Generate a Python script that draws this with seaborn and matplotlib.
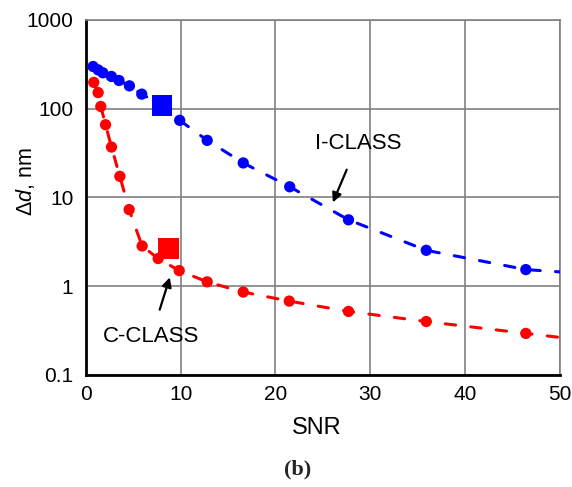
import matplotlib
matplotlib.use("Agg")
import matplotlib.pyplot as plt
import seaborn as sns
import pandas as pd

# ---- data ----
i_snr = [0.77, 1.3, 1.8, 2.7, 3.5, 4.6, 5.9, 9.9, 12.8, 16.6, 21.5, 27.7, 35.9, 46.4]
i_dd = [299, 274, 254, 231, 208, 181, 146, 74, 44, 24.5, 13.2, 5.6, 2.54, 1.54]
i_sq_snr = [8.05]
i_sq_dd = [109]
i_fit_snr = [0.77, 1.3, 1.8, 2.7, 3.5, 4.6, 5.9, 8.05, 9.9, 12.8, 16.6, 21.5, 27.7, 35.9, 46.4, 50]
i_fit_dd = [299, 274, 254, 231, 208, 181, 146, 109, 74, 44, 24.5, 13.2, 5.6, 2.54, 1.54, 1.45]

c_snr = [0.84, 1.3, 1.58, 2.08, 2.71, 3.59, 4.57, 5.94, 7.63, 9.85, 12.8, 16.6, 21.45, 27.7, 35.9, 46.4]
c_dd = [198, 152, 106, 66, 37, 17.3, 7.3, 2.84, 2.05, 1.50, 1.12, 0.86, 0.68, 0.52, 0.40, 0.294]
c_sq_snr = [8.72]
c_sq_dd = [2.65]
c_fit_snr = c_snr + [50]
c_fit_dd = c_dd + [0.265]

x_ticks = [0, 10, 20, 30, 40, 50]
y_ticks = [0.1, 1, 10, 100, 1000]
y_ticklabels = ["0.1", "1", "10", "100", "1000"]

sns.set_theme(style="white")
plt.rcParams["font.family"] = ["Liberation Sans", "DejaVu Sans"]
plt.rcParams["mathtext.fontset"] = "custom"
plt.rcParams["mathtext.rm"] = "Liberation Sans"
plt.rcParams["mathtext.it"] = "Liberation Sans:italic"

fig = plt.figure(figsize=(5.72, 4.87), dpi=100)
ax = fig.add_axes([0.150, 0.230, 0.829, 0.729])

BLUE = "#0000ff"
RED = "#ff0000"

fit_i = pd.DataFrame({"snr": i_fit_snr, "dd": i_fit_dd})
fit_c = pd.DataFrame({"snr": c_fit_snr, "dd": c_fit_dd})
sns.lineplot(data=fit_i, x="snr", y="dd", ax=ax, color=BLUE, lw=2.2,
             sort=False, zorder=3)
sns.lineplot(data=fit_c, x="snr", y="dd", ax=ax, color=RED, lw=2.2,
             sort=False, zorder=3)
for l in ax.lines:
    l.set_dashes([3.4, 5.0])
    l.set_dash_capstyle("round")

sns.scatterplot(x=i_snr, y=i_dd, ax=ax, color=BLUE, s=66, edgecolor="none", zorder=4)
sns.scatterplot(x=c_snr, y=c_dd, ax=ax, color=RED, s=66, edgecolor="none", zorder=4)
sns.scatterplot(x=i_sq_snr, y=i_sq_dd, ax=ax, color=BLUE, marker="s", s=220, edgecolor="none", zorder=4)
sns.scatterplot(x=c_sq_snr, y=c_sq_dd, ax=ax, color=RED, marker="s", s=220, edgecolor="none", zorder=4)

ax.set_yscale("log")
ax.set_xlim(0, 50)
ax.set_ylim(0.1, 1000)
ax.set_xticks(x_ticks)
ax.set_yticks(y_ticks)
ax.set_yticklabels(y_ticklabels)
ax.minorticks_off()
ax.tick_params(axis="both", length=0, labelsize=15, colors="black")
ax.tick_params(axis="x", pad=7)
ax.tick_params(axis="y", pad=9)
ax.grid(True, which="major", color="#808080", lw=1.2)
for s in ["top", "right"]:
    ax.spines[s].set_color("#808080")
    ax.spines[s].set_linewidth(1.2)
for s in ["left", "bottom"]:
    ax.spines[s].set_color("black")
    ax.spines[s].set_linewidth(2)

ax.set_xlabel("SNR", fontsize=17, color="black")
ax.set_ylabel(r"$\mathit{\Delta d}$, nm", fontsize=15.5, color="black")
ax.xaxis.set_label_coords(0.487, -0.118)
ax.yaxis.set_label_coords(-0.103, 0.545)

ax.annotate("I-CLASS", xy=(26.05, 8.8), xytext=(28.7, 41), fontsize=16,
            ha="center", va="center", color="black",
            arrowprops=dict(arrowstyle="-|>", color="black", lw=1.6, shrinkA=10, shrinkB=0,
                            mutation_scale=14))
ax.annotate("C-CLASS", xy=(8.86, 1.26), xytext=(6.9, 0.27), fontsize=16,
            ha="center", va="center", color="black",
            arrowprops=dict(arrowstyle="-|>", color="black", lw=1.6, shrinkA=10, shrinkB=0,
                            mutation_scale=14))

fig.text(0.521, 0.035, "(b)", fontsize=16, fontweight="bold",
         family=["Liberation Serif", "DejaVu Serif"], ha="center", va="center")

fig.savefig("out.png", dpi=100)
